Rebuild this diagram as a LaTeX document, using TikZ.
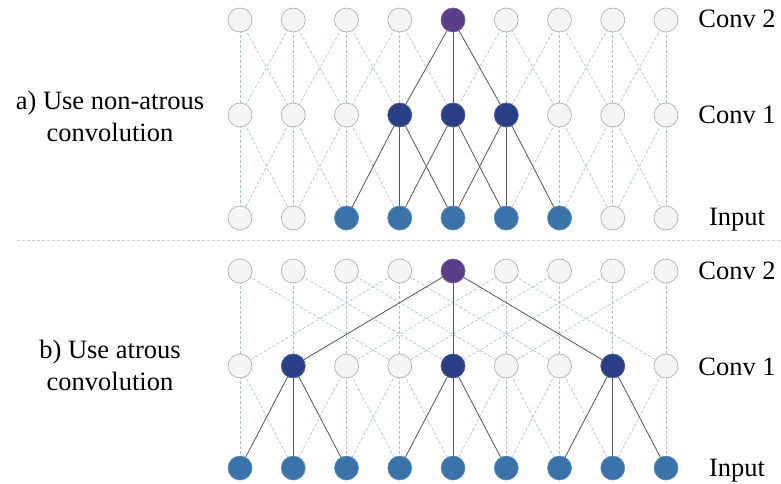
\documentclass[tikz,border=0pt]{standalone}
\usepackage{fontspec}
\setmainfont{Liberation Serif}
\newfontfamily\lblfont{Liberation Serif}
\usetikzlibrary{backgrounds}
\definecolor{dashc}{HTML}{A3C3D9}
\definecolor{solc}{HTML}{555555}
\definecolor{nfill}{HTML}{F5F5F5}
\definecolor{ndraw}{HTML}{A8A8A8}
\definecolor{purp}{HTML}{5A3E8A}
\definecolor{dblue}{HTML}{2B3F86}
\definecolor{iblue}{HTML}{3A72AA}
\tikzset{
 neuron/.style={circle, minimum size=24pt, inner sep=0pt, draw=ndraw, line width=0.6pt, fill=nfill},
 purpn/.style={neuron, fill=purp, draw=purp!80!white},
 dbn/.style={neuron, fill=dblue, draw=dblue!80!white},
 ibn/.style={neuron, fill=iblue, draw=iblue!80!white},
 dlink/.style={draw=dashc, line width=0.7pt, dash pattern=on 3pt off 2pt},
 slink/.style={draw=solc, line width=0.8pt},
 lbl/.style={font=\lblfont\fontsize{26.5}{32}\selectfont, anchor=base, inner sep=0pt},
 sepline/.style={draw=black!20, dash pattern=on 3pt off 2pt, line width=0.7pt}
}
\begin{document}
\begin{tikzpicture}[x=1pt,y=-1pt]
\useasboundingbox (0,0) rectangle (781,484);
\foreach \i in {0,...,8} {
  \pgfmathsetmacro\xx{240+53.25*\i}
  \node[neuron] (a2-\i) at (\xx,20) {};
  \node[neuron] (a1-\i) at (\xx,115) {};
  \node[neuron] (a0-\i) at (\xx,218) {};
  \node[neuron] (b2-\i) at (\xx,271) {};
  \node[neuron] (b1-\i) at (\xx,366) {};
  \node[ibn] (b0-\i) at (\xx,468) {};
}
\node[purpn] at (a2-4) {};
\foreach \i in {3,4,5} \node[dbn] at (a1-\i) {};
\foreach \i in {2,...,6} \node[ibn] at (a0-\i) {};
\node[purpn] at (b2-4) {};
\foreach \i in {1,4,7} \node[dbn] at (b1-\i) {};
\begin{pgfonlayer}{background}
\foreach \i in {0,1,2,3,5,6,7,8} {
  \foreach \d in {-1,0,1} {
    \pgfmathtruncatemacro\j{\i+\d}
    \ifnum\j>-1 \ifnum\j<9
      \draw[dlink] (a2-\i.center) -- (a1-\j.center);
    \fi\fi
  }
}
\foreach \i in {0,1,2,6,7,8} {
  \foreach \d in {-1,0,1} {
    \pgfmathtruncatemacro\j{\i+\d}
    \ifnum\j>-1 \ifnum\j<9
      \draw[dlink] (a1-\i.center) -- (a0-\j.center);
    \fi\fi
  }
}
\foreach \i in {0,1,2,3,5,6,7,8} {
  \foreach \d in {-3,0,3} {
    \pgfmathtruncatemacro\j{\i+\d}
    \ifnum\j>-1 \ifnum\j<9
      \draw[dlink] (b2-\i.center) -- (b1-\j.center);
    \fi\fi
  }
}
\foreach \i in {0,2,3,5,6,8} {
  \foreach \d in {-1,0,1} {
    \pgfmathtruncatemacro\j{\i+\d}
    \ifnum\j>-1 \ifnum\j<9
      \draw[dlink] (b1-\i.center) -- (b0-\j.center);
    \fi\fi
  }
}
\foreach \j in {3,4,5} \draw[slink] (a2-4.center) -- (a1-\j.center);
\foreach \i in {3,4,5} {
  \foreach \d in {-1,0,1} {
    \pgfmathtruncatemacro\j{\i+\d}
    \draw[slink] (a1-\i.center) -- (a0-\j.center);
  }
}
\foreach \j in {1,4,7} \draw[slink] (b2-4.center) -- (b1-\j.center);
\foreach \i in {1,4,7} {
  \foreach \d in {-1,0,1} {
    \pgfmathtruncatemacro\j{\i+\d}
    \draw[slink] (b1-\i.center) -- (b0-\j.center);
  }
}
\end{pgfonlayer}
\coordinate (sepL) at (17,240);
\coordinate (sepR) at (781,240);
\draw[sepline] (sepL) -- (sepR);
\node[lbl] (la1) at (110,110) {a) Use non-atrous};
\node[lbl] (la2) at (110,142) {convolution};
\node[lbl] (lb1) at (110,358) {b) Use atrous};
\node[lbl] (lb2) at (110,390) {convolution};
\node[lbl] (ta2) at (737,28) {Conv 2};
\node[lbl] (ta1) at (737,124) {Conv 1};
\node[lbl] (ta0) at (737,225) {Input};
\node[lbl] (tb2) at (737,279) {Conv 2};
\node[lbl] (tb1) at (737,375) {Conv 1};
\node[lbl] (tb0) at (737,476) {Input};
\end{tikzpicture}
\end{document}
